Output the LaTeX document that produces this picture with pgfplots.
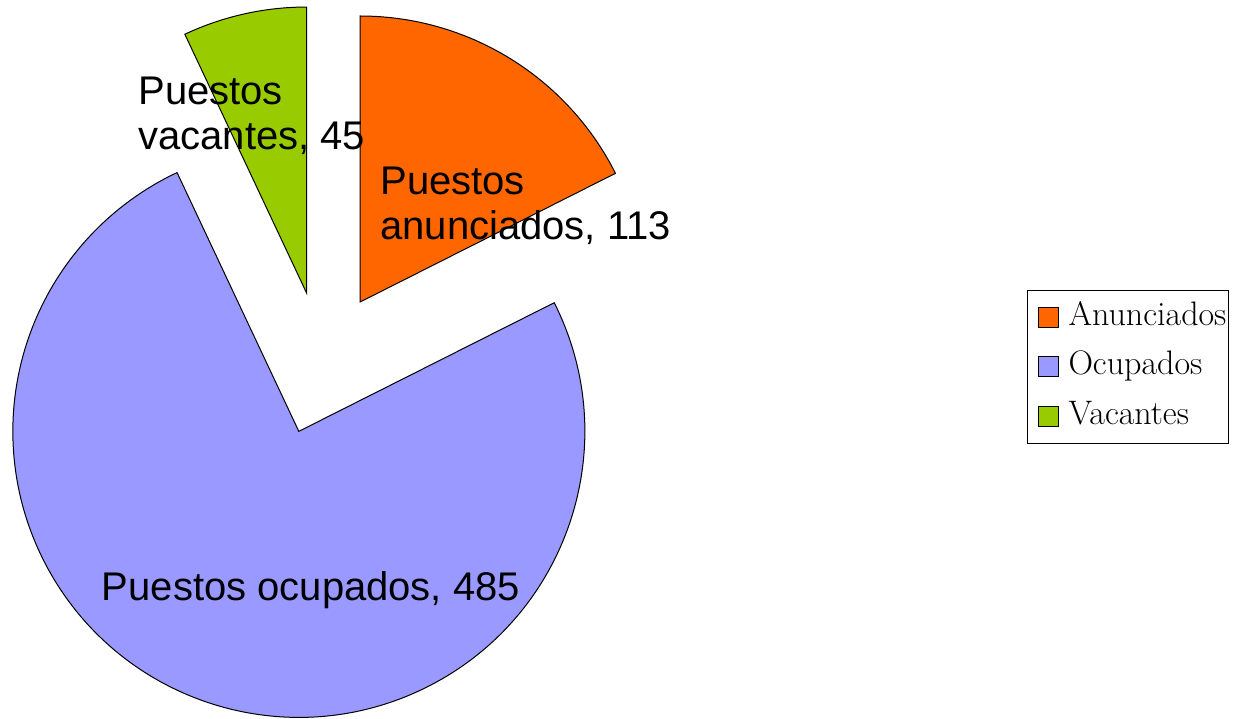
\documentclass[border=0pt]{standalone}
\usepackage{fontspec}
\newfontfamily\labelfont{Liberation Sans}
\usepackage{pgfplots}
\pgfplotsset{compat=1.18}
\usetikzlibrary{calc}
\definecolor{anun}{HTML}{FF6600}
\definecolor{ocup}{HTML}{9999FF}
\definecolor{vaca}{HTML}{99CC00}

% slice values
\def\vAnun{113}
\def\vOcup{485}
\def\vVaca{45}
\pgfmathsetmacro{\total}{\vAnun+\vOcup+\vVaca}
\pgfmathsetmacro{\sA}{90}
\pgfmathsetmacro{\eA}{\sA-\vAnun/\total*360}
\pgfmathsetmacro{\eO}{\eA-\vOcup/\total*360}
\pgfmathsetmacro{\eV}{\eO-\vVaca/\total*360}
\pgfmathsetmacro{\mA}{(\sA+\eA)/2}
\pgfmathsetmacro{\mO}{(\eA+\eO)/2}
\pgfmathsetmacro{\mV}{(\eO+\eV)/2}

\tikzset{pielabel/.style={inner sep=0pt, font=\labelfont\fontsize{20}{22.5}\selectfont}}

\begin{document}
\begin{tikzpicture}
\begin{axis}[
  width=618.5pt, height=359pt, scale only axis,
  xmin=0, xmax=1237, ymin=0, ymax=718,
  hide axis, clip=false,
  legend style={at={(axis cs:1027,428)}, anchor=north west,
    draw=black, fill=white, line width=0.5pt,
    font=\fontsize{17}{20}\selectfont,
    inner xsep=1pt, inner ysep=5.5pt,
    row sep=8.75pt,
    nodes={inner xsep=0pt, inner ysep=0pt, text height=12pt, text depth=4pt},
    cells={anchor=west},
    /tikz/every odd column/.append style={column sep=5pt}},
  legend image code/.code={\path (0pt,0pt); \draw[#1,line width=0.5pt] (4pt,-5pt) rectangle (14pt,5pt);},
]
  \filldraw[fill=anun, draw=black, line width=0.5pt]
    ($(axis cs:322.3,354.7)+(\mA:36pt)$) -- ++(\sA:143pt)
    arc[start angle=\sA, end angle=\eA, radius=143pt] -- cycle;
  \filldraw[fill=ocup, draw=black, line width=0.5pt]
    ($(axis cs:322.3,354.7)+(\mO:36pt)$) -- ++(\eA:143pt)
    arc[start angle=\eA, end angle=\eO, radius=143pt] -- cycle;
  \filldraw[fill=vaca, draw=black, line width=0.5pt]
    ($(axis cs:322.3,354.7)+(\mV:36pt)$) -- ++(\eO:143pt)
    arc[start angle=\eO, end angle=\eV, radius=143pt] -- cycle;

  \node[pielabel, anchor=base west] at (axis cs:380,523) {Puestos};
  \node[pielabel, anchor=base west] at (axis cs:380,478) {anunciados, 113};
  \node[pielabel, anchor=base west] at (axis cs:138,613) {Puestos};
  \node[pielabel, anchor=base west] at (axis cs:138,568) {vacantes, 45};
  \node[pielabel, anchor=base] at (axis cs:311,118) {Puestos ocupados, 485};

  \addlegendimage{fill=anun, draw=black}
  \addlegendentry{Anunciados}
  \addlegendimage{fill=ocup, draw=black}
  \addlegendentry{Ocupados}
  \addlegendimage{fill=vaca, draw=black}
  \addlegendentry{Vacantes}
\end{axis}
\pgfresetboundingbox
\useasboundingbox (0,0) rectangle (618.5pt,359pt);
\end{tikzpicture}
\end{document}
